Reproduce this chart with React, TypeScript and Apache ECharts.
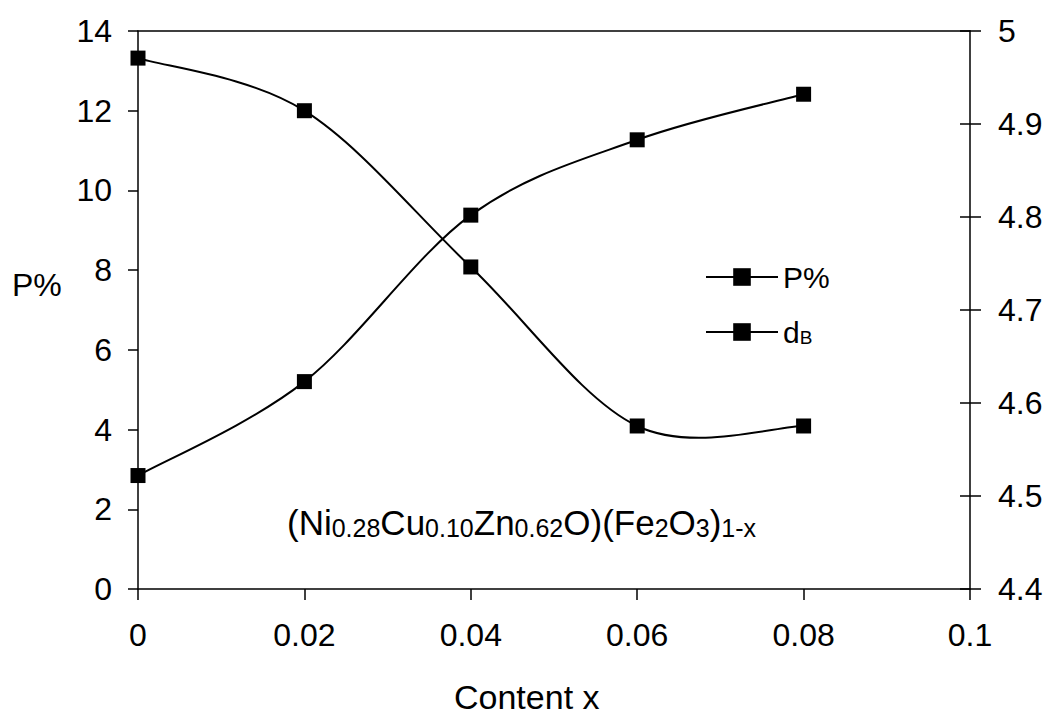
import React, { useEffect, useRef } from "react";
import * as echarts from "echarts";

const contentX = [0, 0.02, 0.04, 0.06, 0.08];
const porosity = [13.32, 12.0, 8.08, 4.09, 4.09];
const bulkDensity = [4.522, 4.623, 4.802, 4.883, 4.932];
const seriesNames = ["P%", "dB"];
const xTitle = "Content x";
const yTitle = "P%";
const formulaRich =
  "{m|(Ni}{s|0.28}{m|Cu}{s|0.10}{m|Zn}{s|0.62}{m|O)(Fe}{s|2}{m|O}{s|3}{m|)}{s|1-x}";

const FONT = "'Liberation Sans', Arial, Helvetica, sans-serif";

// Excel-like smoothed segment (Catmull-Rom with 1/6 tension) in pixel space
function smoothRenderer(values: number[]) {
  return (params: any, api: any) => {
    const i = params.dataIndex;
    const n = values.length;
    if (i >= n - 1) return null;
    const pts = values.map((v, k) => api.coord([contentX[k], v]));
    const p0 = pts[Math.max(i - 1, 0)];
    const p1 = pts[i];
    const p2 = pts[i + 1];
    const p3 = pts[Math.min(i + 2, n - 1)];
    return {
      type: "bezierCurve",
      shape: {
        x1: p1[0],
        y1: p1[1],
        cpx1: p1[0] + (p2[0] - p0[0]) / 6,
        cpy1: p1[1] + (p2[1] - p0[1]) / 6,
        cpx2: p2[0] - (p3[0] - p1[0]) / 6,
        cpy2: p2[1] - (p3[1] - p1[1]) / 6,
        x2: p2[0],
        y2: p2[1],
      },
      style: { stroke: "#000", lineWidth: 2, fill: "none" },
    };
  };
}

export default function App() {
  const ref = useRef<HTMLDivElement>(null);
  useEffect(() => {
    document.body.style.margin = "0";
    const chart = echarts.init(ref.current!, null, { renderer: "svg" });
    const axisLine = { show: true, onZero: false, lineStyle: { color: "#000", width: 1.5 } };
    const tickStyle = { color: "#000", width: 1.5 };
    const gridRect = { left: 138, right: 83, top: 31, bottom: 127 };
    chart.setOption({
      animation: false,
      backgroundColor: "#fff",
      textStyle: { fontFamily: FONT, color: "#000" },
      grid: [gridRect, gridRect],
      xAxis: [
        {
          type: "value",
          gridIndex: 0,
          min: 0,
          max: 0.1,
          interval: 0.02,
          position: "bottom",
          axisLine,
          axisTick: { show: true, length: 11, lineStyle: tickStyle },
          axisLabel: { fontSize: 32, color: "#000", margin: 30, fontFamily: FONT },
          splitLine: { show: false },
        },
        {
          type: "value",
          gridIndex: 0,
          min: 0,
          max: 0.1,
          position: "top",
          axisLine,
          axisTick: { show: false },
          axisLabel: { show: false },
          splitLine: { show: false },
        },
        {
          type: "value",
          gridIndex: 1,
          min: 0,
          max: 0.1,
          position: "bottom",
          axisLine: { show: false, onZero: false },
          axisTick: { show: false },
          axisLabel: { show: false },
          splitLine: { show: false },
        },
      ],
      yAxis: [
        {
          type: "value",
          gridIndex: 0,
          min: 0,
          max: 14,
          interval: 2,
          position: "left",
          axisLine,
          axisTick: { show: true, length: 10, lineStyle: tickStyle },
          axisLabel: { fontSize: 32, color: "#000", margin: 26, fontFamily: FONT },
          splitLine: { show: false },
        },
        {
          type: "value",
          gridIndex: 0,
          min: 4.4,
          max: 5,
          interval: 0.1,
          position: "right",
          axisLine,
          axisTick: { show: true, length: 11, lineStyle: tickStyle },
          axisLabel: { fontSize: 32, color: "#000", margin: 28, fontFamily: FONT },
          splitLine: { show: false },
        },
        {
          // inner half of the crossing ticks on the right axis
          type: "value",
          gridIndex: 1,
          min: 4.4,
          max: 5,
          interval: 0.1,
          position: "right",
          axisLine: { show: false, onZero: false },
          axisTick: { show: true, inside: true, length: 10, lineStyle: tickStyle },
          axisLabel: { show: false },
          splitLine: { show: false },
        },
      ],
      legend: {
        orient: "vertical",
        left: 700,
        top: 257,
        itemWidth: 72,
        itemHeight: 22,
        itemGap: 25,
        data: seriesNames,
        lineStyle: { color: "#000", width: 2, opacity: 1 },
        formatter: (name: string) => (name === "dB" ? "{m|d}{s|B}" : "{m|" + name + "}"),
        textStyle: {
          color: "#000",
          fontSize: 30,
          fontFamily: FONT,
          rich: {
            m: { fontSize: 30, lineHeight: 30, fontFamily: FONT, color: "#000" },
            s: { fontSize: 19, lineHeight: 14, verticalAlign: "bottom", fontFamily: FONT, color: "#000" },
          },
        },
      },
      graphic: [
        {
          type: "text",
          left: 12,
          top: 269,
          style: { text: yTitle, fontSize: 32, fontFamily: FONT, fill: "#000" },
        },
        {
          type: "text",
          left: 454,
          top: 680,
          style: { text: xTitle, fontSize: 34, lineHeight: 34, fontFamily: FONT, fill: "#000" },
        },
        {
          type: "text",
          left: 287,
          top: 505,
          style: {
            text: formulaRich,
            fill: "#000",
            fontFamily: FONT,
            rich: {
              m: { fontSize: 35, lineHeight: 35, fontFamily: FONT, fill: "#000" },
              s: { fontSize: 25, lineHeight: 25, verticalAlign: "bottom", fontFamily: FONT, fill: "#000" },
            },
          },
        },
      ],
      series: [
        {
          type: "custom",
          xAxisIndex: 0,
          yAxisIndex: 0,
          silent: true,
          z: 2,
          data: contentX.map((x, i) => [x, porosity[i]]),
          encode: { x: 0, y: 1 },
          renderItem: smoothRenderer(porosity),
        },
        {
          type: "custom",
          xAxisIndex: 0,
          yAxisIndex: 1,
          silent: true,
          z: 2,
          data: contentX.map((x, i) => [x, bulkDensity[i]]),
          encode: { x: 0, y: 1 },
          renderItem: smoothRenderer(bulkDensity),
        },
        {
          name: seriesNames[0],
          type: "line",
          xAxisIndex: 0,
          yAxisIndex: 0,
          z: 3,
          data: contentX.map((x, i) => [x, porosity[i]]),
          symbol: "rect",
          symbolSize: 15,
          itemStyle: { color: "#000" },
          lineStyle: { color: "#000", width: 2, opacity: 0 },
        },
        {
          name: seriesNames[1],
          type: "line",
          xAxisIndex: 0,
          yAxisIndex: 1,
          z: 3,
          data: contentX.map((x, i) => [x, bulkDensity[i]]),
          symbol: "rect",
          symbolSize: 15,
          itemStyle: { color: "#000" },
          lineStyle: { color: "#000", width: 2, opacity: 0 },
        },
      ],
    });
    return () => chart.dispose();
  }, []);
  return <div ref={ref} style={{ width: 1053, height: 716 }} />;
}
